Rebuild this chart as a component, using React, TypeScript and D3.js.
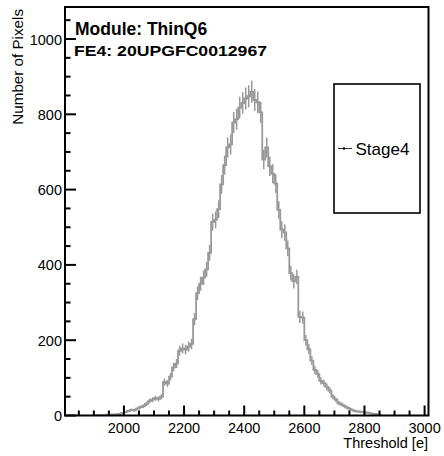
import React from "react";
import * as d3 from "d3";

const binLowEdges = [
  1900, 1910, 1920, 1930, 1940, 1950, 1960, 1970, 1980, 1990,
  2000, 2010, 2020, 2030, 2040, 2050, 2060, 2070, 2080, 2090,
  2100, 2110, 2120, 2130, 2140, 2150, 2160, 2170, 2180, 2190,
  2200, 2210, 2220, 2230, 2240, 2250, 2260, 2270, 2280, 2290,
  2300, 2310, 2320, 2330, 2340, 2350, 2360, 2370, 2380, 2390,
  2400, 2410, 2420, 2430, 2440, 2450, 2460, 2470, 2480, 2490,
  2500, 2510, 2520, 2530, 2540, 2550, 2560, 2570, 2580, 2590,
  2600, 2610, 2620, 2630, 2640, 2650, 2660, 2670, 2680, 2690,
  2700, 2710, 2720, 2730, 2740, 2750, 2760, 2770, 2780, 2790,
  2800, 2810, 2820, 2830, 2840, 2850,
];
const binWidth = 10;
const counts = [
  0, 1, 1, 0, 2, 2, 3, 3, 4, 6,
  9, 12, 15, 14, 18, 22, 25, 31, 38, 42,
  46, 44, 50, 89, 85, 103, 128, 138, 172, 178,
  175, 183, 190, 256, 325, 350, 366, 388, 432, 514,
  520, 548, 614, 665, 712, 720, 778, 787, 818, 830,
  842, 848, 860, 838, 832, 805, 680, 712, 662, 642,
  616, 546, 494, 486, 444, 378, 356, 368, 262, 260,
  200, 176, 146, 121, 110, 92, 86, 76, 66, 50,
  42, 33, 29, 24, 20, 16, 13, 11, 10, 9,
  8, 7, 5, 4, 2, 1,
];

const xDomain = [1804, 3013];
const yDomain = [0, 1085];
const xMajorTicks = [2000, 2200, 2400, 2600, 2800, 3000];
const yMajorTicks = [0, 200, 400, 600, 800, 1000];
const titleText = "Module: ThinQ6";
const subtitleText = "FE4: 20UPGFC0012967";
const legendLabel = "Stage4";
const xTitle = "Threshold [e]";
const yTitle = "Number of Pixels";

const W = 444;
const H = 456;
const M = { left: 65, right: 428.5, top: 7, bottom: 415.5 };
const FONT = "'Liberation Sans', Arial, Helvetica, sans-serif";
const HIST_COLOR = "#999999";

export default function App() {
  const x = d3.scaleLinear().domain(xDomain).range([M.left, M.right]);
  const y = d3.scaleLinear().domain(yDomain).range([M.bottom, M.top]);

  const xMinor = d3.range(1850, 3013, 50).filter((v) => v > xDomain[0]);
  const yMinor = d3.range(0, 1085, 50);

  const pts: [number, number][] = [];
  binLowEdges.forEach((lo, i) => {
    pts.push([lo, counts[i]]);
  });
  const last = binLowEdges[binLowEdges.length - 1] + binWidth;
  pts.push([last, counts[counts.length - 1]]);
  const step = d3
    .line<[number, number]>()
    .x((d) => x(d[0]))
    .y((d) => y(d[1]))
    .curve(d3.curveStepAfter)(pts);

  return (
    <svg
      width={W}
      height={H}
      style={{ position: "absolute", left: 0, top: 0, background: "#fff" }}
      fontFamily={FONT}
    >
      <rect x={0} y={0} width={W} height={H} fill="#fff" />
      <defs>
        <clipPath id="clip">
          <rect x={M.left} y={M.top} width={M.right - M.left} height={M.bottom - M.top} />
        </clipPath>
      </defs>
      <g clipPath="url(#clip)">
        <path d={step || ""} fill="none" stroke={HIST_COLOR} strokeWidth={1.8} />
        {binLowEdges.map((lo, i) => {
          const c = counts[i];
          if (c <= 0) return null;
          const e = Math.sqrt(c);
          const cx = x(lo + binWidth / 2);
          return (
            <line
              key={i}
              x1={cx}
              x2={cx}
              y1={y(c - e)}
              y2={y(c + e)}
              stroke={HIST_COLOR}
              strokeWidth={1.5}
            />
          );
        })}
      </g>

      <rect
        x={M.left}
        y={M.top}
        width={M.right - M.left}
        height={M.bottom - M.top}
        fill="none"
        stroke="#000"
        strokeWidth={2}
      />

      {xMinor.map((v) => {
        const major = xMajorTicks.includes(v);
        return (
          <line
            key={"xt" + v}
            x1={x(v)}
            x2={x(v)}
            y1={M.bottom}
            y2={M.bottom - (major ? 10 : 5)}
            stroke="#000"
            strokeWidth={2}
          />
        );
      })}
      {xMajorTicks.map((v) => (
        <text key={"xl" + v} x={x(v)} y={433} textAnchor="middle" fontSize={14.5} fill="#000">
          {v}
        </text>
      ))}

      {yMinor.map((v) => {
        const major = yMajorTicks.includes(v);
        return (
          <line
            key={"yt" + v}
            x1={M.left}
            x2={M.left + (major ? 11 : 5.5)}
            y1={y(v)}
            y2={y(v)}
            stroke="#000"
            strokeWidth={2}
          />
        );
      })}
      {yMajorTicks.map((v) => (
        <text key={"yl" + v} x={62} y={y(v) + 5.5} textAnchor="end" fontSize={14.5} fill="#000">
          {v}
        </text>
      ))}

      <text x={428} y={448} textAnchor="end" fontSize={14.5} fill="#000">
        {xTitle}
      </text>
      <text transform={`translate(23, 9) rotate(-90)`} textAnchor="end" fontSize={15.2} fill="#000">
        {yTitle}
      </text>

      <text x={75} y={35} fontSize={17.5} fontWeight="bold" fill="#000">
        {titleText}
      </text>
      <text
        x={74}
        y={56}
        fontSize={15}
        fontWeight="bold"
        fill="#000"
        textLength={193}
        lengthAdjust="spacingAndGlyphs"
      >
        {subtitleText}
      </text>

      <rect x={334} y={84} width={86} height={129} fill="#fff" stroke="#000" strokeWidth={1.6} />
      <line x1={338} x2={352} y1={148.5} y2={148.5} stroke="#333" strokeWidth={1} />
      <circle cx={344} cy={148.5} r={1.3} fill="#000" />
      <text x={355.5} y={155} fontSize={17} fill="#000">
        {legendLabel}
      </text>
    </svg>
  );
}
